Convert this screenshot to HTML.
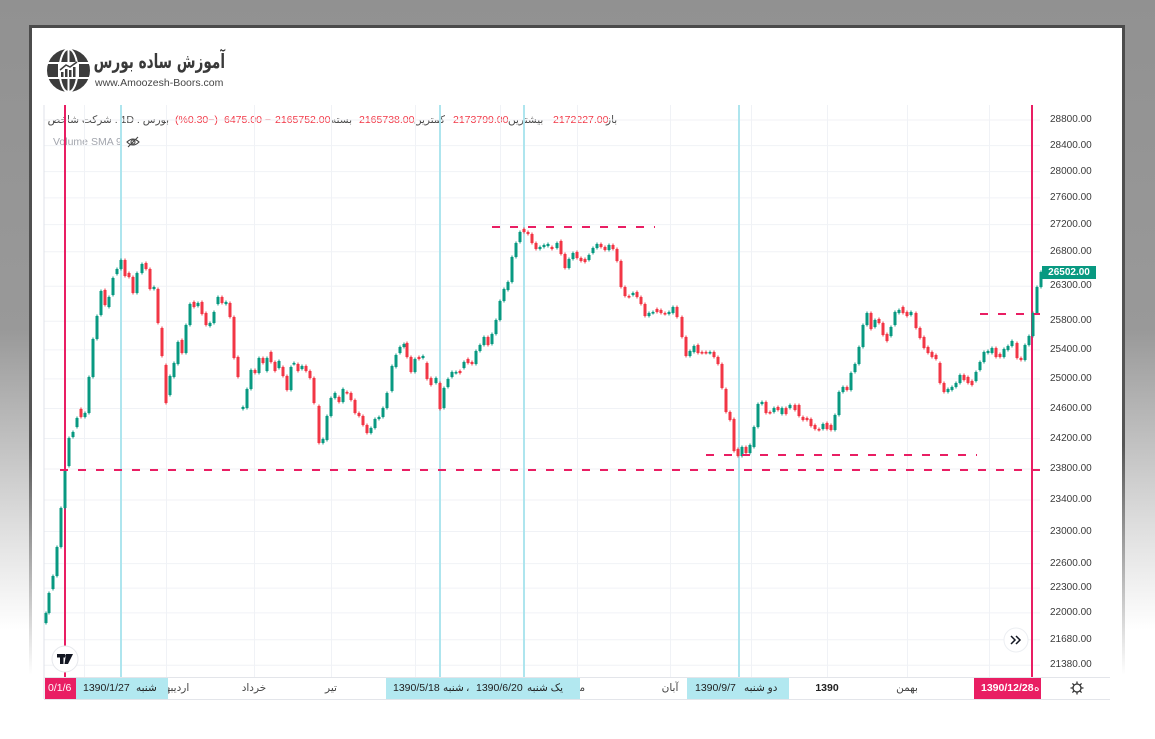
<!DOCTYPE html>
<html><head><meta charset="utf-8">
<style>
*{margin:0;padding:0;box-sizing:border-box}
html,body{width:1155px;height:739px;overflow:hidden}
body{position:relative;background:linear-gradient(to bottom,#919191 0px,#999 330px,#dcdcdc 520px,#fff 630px);font-family:"Liberation Sans","DejaVu Sans",sans-serif}
.panel{position:absolute;left:29px;top:25px;width:1096px;height:714px;background:#fff;border-top:3px solid #4b4b4b}
.bl,.br{position:absolute;top:25px;width:3px;height:650px;background:linear-gradient(to bottom,#4b4b4b 0,#555 420px,rgba(85,85,85,0) 650px)}
.bl{left:29px}.br{left:1122px}
.t{position:absolute;white-space:nowrap;font-size:10.5px;line-height:12px}
.lab{color:#4a4a4a}
.red{color:#f23645}
.p{position:absolute;left:1050px;font-size:10px;line-height:12px;color:#3b3b3b;white-space:nowrap}
.ax{position:absolute;top:682px;font-size:10.5px;line-height:12px;color:#444;white-space:nowrap}
.box{position:absolute;top:677px;height:22px;overflow:hidden}
svg{position:absolute;left:0;top:0}
.logo{position:absolute;left:25px;top:48px;width:200px;text-align:right;direction:rtl;font-size:20px;line-height:26px;font-weight:bold;color:#3a3a3a;white-space:nowrap;font-family:"DejaVu Sans",sans-serif;transform:scaleX(0.68);transform-origin:right center}
</style></head><body>
<div class="panel"></div>
<div class="bl"></div><div class="br"></div>

<div class="logo">آموزش ساده بورس</div>
<div class="t" style="left:95px;top:77px;font-size:10.5px;color:#444">www.Amoozesh-Boors.com</div>

<!-- logo -->
<svg width="1155" height="739" style="z-index:1">
  <g>
    <circle cx="68.5" cy="70.5" r="21.5" fill="#3c3c3c"/>
    <ellipse cx="68.5" cy="70.5" rx="9" ry="21.5" fill="none" stroke="#fff" stroke-width="2"/>
    <line x1="47" y1="63" x2="90" y2="63" stroke="#fff" stroke-width="2"/>
    <line x1="47" y1="78" x2="90" y2="78" stroke="#fff" stroke-width="2"/>
    <line x1="68.5" y1="49" x2="68.5" y2="92" stroke="#fff" stroke-width="2"/>
    <rect x="58" y="62" width="21" height="17" rx="2" fill="#fff"/>
    <rect x="61" y="72" width="2.5" height="5" fill="#3c3c3c"/>
    <rect x="65" y="69" width="2.5" height="8" fill="#3c3c3c"/>
    <rect x="69" y="70" width="2.5" height="7" fill="#3c3c3c"/>
    <rect x="73" y="67" width="2.5" height="10" fill="#3c3c3c"/>
    <polyline points="60,70 66,65 70,67 77,62" fill="none" stroke="#3c3c3c" stroke-width="1.5"/>
  </g>
</svg>

<!-- chart svg -->
<svg width="1155" height="739" id="ch" style="z-index:2">
  <g id="grid" stroke="#f0f2f6" stroke-width="1"></g>
  <g stroke="#aee5ee" stroke-width="2">
    <line x1="121" y1="105" x2="121" y2="677"/>
    <line x1="440" y1="105" x2="440" y2="677"/>
    <line x1="524" y1="105" x2="524" y2="677"/>
    <line x1="739" y1="105" x2="739" y2="677"/>
  </g>
  <g stroke="#e91e63" stroke-width="2">
    <line x1="65" y1="105" x2="65" y2="677"/>
    <line x1="1032" y1="105" x2="1032" y2="677"/>
  </g>
  <g id="candles"></g>
  <g stroke="#e91e63" stroke-width="2" stroke-dasharray="8 10">
    <line x1="60" y1="470" x2="1040" y2="470"/>
    <line x1="492" y1="227" x2="655" y2="227"/>
    <line x1="706" y1="455" x2="977" y2="455"/>
    <line x1="980" y1="314" x2="1040" y2="314"/>
  </g>
  <line x1="44" y1="105" x2="44" y2="699" stroke="#dfe2e8" stroke-width="1"/>
  <line x1="44" y1="677.5" x2="1110" y2="677.5" stroke="#e3e5ea" stroke-width="1"/>
  <line x1="44" y1="699.5" x2="1110" y2="699.5" stroke="#e3e5ea" stroke-width="1"/>
  <!-- TV logo -->
  <circle cx="65" cy="659" r="13" fill="#fff" stroke="#e6e8ec"/>
  <rect x="57" y="654" width="8" height="3.5" fill="#131722"/>
  <rect x="60" y="654" width="3.5" height="10" fill="#131722"/>
  <polygon points="66,654 73,654 68,664 64.5,664" fill="#131722"/>
  <circle cx="67" cy="655.8" r="1.8" fill="#131722"/>
  <!-- >> button -->
  <circle cx="1016" cy="640" r="12" fill="#fff" stroke="#eceef2"/>
  <path d="M1011,636 l4,4 l-4,4 M1016,636 l4,4 l-4,4" fill="none" stroke="#131722" stroke-width="1.5"/>
  <!-- gear -->
  <g transform="translate(1077,688)" fill="none" stroke="#333" stroke-width="1.3">
    <circle r="4"/>
    <path d="M0,-6.5V-4M0,4V6.5M-6.5,0H-4M4,0H6.5M-4.6,-4.6L-2.8,-2.8M2.8,2.8L4.6,4.6M-4.6,4.6L-2.8,2.8M2.8,-2.8L4.6,-4.6"/>
  </g>
  <!-- eye slash -->
  <g transform="translate(133,142)" fill="none" stroke="#444" stroke-width="1.1">
    <path d="M-6,0 Q0,-6 6,0 Q0,6 -6,0Z"/>
    <circle r="2"/>
    <line x1="-5" y1="5" x2="5" y2="-5"/>
  </g>
</svg>

<!-- header legend -->
<div class="t lab" style="left:53px;top:114px;direction:rtl;width:116px;text-align:right">بورس . 1D . شرکت شاخص</div>
<div class="t red" style="left:175px;top:114px">(%0.30−)</div>
<div class="t red" style="left:224px;top:114px">6475.00 −</div>
<div class="t red" style="left:275px;top:114px">2165752.00</div>
<div class="t lab" style="left:331px;top:114px">بسته</div>
<div class="t red" style="left:359px;top:114px">2165738.00</div>
<div class="t lab" style="left:414px;top:114px">کمترین</div>
<div class="t red" style="left:453px;top:114px">2173799.00</div>
<div class="t lab" style="left:508px;top:114px">بیشترین</div>
<div class="t red" style="left:553px;top:114px">2172227.00</div>
<div class="t lab" style="left:606px;top:114px">باز</div>
<div class="t" style="left:53px;top:136px;color:#a3a6ae">Volume SMA 9</div>

<!-- price axis -->
<div class="p" style="top:114px">28800.00</div>
<div class="p" style="top:139.6px">28400.00</div>
<div class="p" style="top:165.6px">28000.00</div>
<div class="p" style="top:191.9px">27600.00</div>
<div class="p" style="top:218.6px">27200.00</div>
<div class="p" style="top:245.7px">26800.00</div>
<div class="p" style="top:280.2px">26300.00</div>
<div class="p" style="top:315.3px">25800.00</div>
<div class="p" style="top:343.9px">25400.00</div>
<div class="p" style="top:372.9px">25000.00</div>
<div class="p" style="top:402.5px">24600.00</div>
<div class="p" style="top:432.5px">24200.00</div>
<div class="p" style="top:463px">23800.00</div>
<div class="p" style="top:494px">23400.00</div>
<div class="p" style="top:525.5px">23000.00</div>
<div class="p" style="top:557.6px">22600.00</div>
<div class="p" style="top:582.1px">22300.00</div>
<div class="p" style="top:606.9px">22000.00</div>
<div class="p" style="top:633.7px">21680.00</div>
<div class="p" style="top:659.2px">21380.00</div>
<div style="position:absolute;left:1042px;top:266px;width:54px;height:13px;background:#089981;color:#fff;font-size:10px;font-weight:bold;line-height:13px;text-align:center">26502.00</div>

<!-- time axis labels -->
<div class="ax" style="left:146px;width:40px;text-align:center">اردیبهشت</div>
<div class="ax" style="left:234px;width:40px;text-align:center">خرداد</div>
<div class="ax" style="left:311px;width:40px;text-align:center">تیر</div>
<div class="ax" style="left:557px;width:40px;text-align:center">مهر</div>
<div class="ax" style="left:650px;width:40px;text-align:center">آبان</div>
<div class="ax" style="left:807px;width:40px;text-align:center;font-weight:bold;color:#222">1390</div>
<div class="ax" style="left:887px;width:40px;text-align:center">بهمن</div>

<div class="box" style="left:45px;width:31px;background:#e91e63"><div class="ax" style="top:5px;left:3px;color:#fff">0/1/6</div></div>
<div class="box" style="left:76px;width:92px;background:#b2e8f0"><div class="ax" style="top:5px;left:7px;color:#222">1390/1/27</div><div class="ax" style="top:5px;left:60px;color:#222">شنبه</div></div>
<div class="box" style="left:386px;width:194px;background:#b2e8f0"><div class="ax" style="top:5px;left:7px;color:#222">1390/5/18</div><div class="ax" style="top:5px;left:57px;color:#222">شنبه</div><div class="ax" style="top:5px;left:80px;color:#222">،</div><div class="ax" style="top:5px;left:90px;color:#222">1390/6/20</div><div class="ax" style="top:5px;left:141px;color:#222">یک شنبه</div></div>
<div class="box" style="left:687px;width:102px;background:#b2e8f0"><div class="ax" style="top:5px;left:8px;color:#222">1390/9/7</div><div class="ax" style="top:5px;left:57px;color:#222">دو شنبه</div></div>
<div class="box" style="left:974px;width:67px;background:#e91e63"><div class="ax" style="top:5px;left:7px;color:#fff;font-weight:bold">1390/12/28</div><div class="ax" style="top:5px;left:60px;color:#fff">ه</div></div>

<script>
(function(){
var NS="http://www.w3.org/2000/svg";
var grid=document.getElementById("grid");
var ys=[120,145.6,171.6,197.9,224.6,251.7,286.2,321.3,349.9,378.9,408.5,438.5,469,500,531.5,563.6,588.1,612.9,639.7,665.2];
ys.forEach(function(y){var l=document.createElementNS(NS,"line");l.setAttribute("x1",44);l.setAttribute("x2",1040);l.setAttribute("y1",y);l.setAttribute("y2",y);grid.appendChild(l);});
[84,166,254,331,415,500,577,670,751,827,907,989].forEach(function(x){var l=document.createElementNS(NS,"line");l.setAttribute("x1",x+0.5);l.setAttribute("x2",x+0.5);l.setAttribute("y1",105);l.setAttribute("y2",677);grid.appendChild(l);});
var d="46,613,623,g;49,593,613,g;53,576,589,g;57,547,576,g;61,508,547,g;65,471,508,g;69,438,466,g;73,432,437,g;77,418,427,g;81,409,417,r;85,413,417,g;89,377,413,g;93,339,377,g;97,316,339,g;101,291,315,g;105,290,305,r;109,297,307,g;113,278,295,g;117,269,274,g;121,260,269,g;125,260,276,r;129,273,277,r;133,277,293,r;137,273,293,g;142,264,273,g;146,263,269,r;150,269,289,r;154,287,289,g;158,289,323,r;162,328,356,r;166,365,403,r;170,376,395,g;174,363,377,g;178,342,364,g;182,340,353,r;186,325,353,g;190,304,325,g;194,302,307,r;198,303,306,g;202,302,314,r;206,313,325,r;210,323,326,g;214,312,323,g;218,297,304,g;222,297,303,r;226,302,304,g;230,303,317,r;234,317,358,r;238,357,377,r;243,407,409,g;247,389,408,g;251,370,389,g;255,370,373,r;259,358,373,g;263,358,363,r;267,358,371,g;271,352,362,r;275,362,371,r;279,361,368,g;283,367,376,r;287,376,390,r;291,367,390,g;294,363,364,g;298,364,371,r;302,366,369,g;306,366,371,r;310,371,378,r;314,378,403,r;319,406,443,r;323,439,443,g;327,416,440,g;331,398,416,g;335,393,398,g;339,397,402,r;343,389,402,g;347,392,393,r;351,393,400,r;355,400,413,r;359,413,416,r;363,416,425,r;367,425,433,r;371,428,433,g;375,419,428,g;379,417,419,g;383,408,417,g;387,393,408,g;392,366,391,g;396,355,367,g;400,347,353,g;404,344,347,g;407,343,357,r;411,357,372,r;415,359,372,g;419,357,359,r;423,356,358,g;427,363,379,r;431,378,385,r;436,378,383,g;440,383,409,r;444,388,408,g;448,379,387,g;452,372,377,g;456,372,373,g;460,371,373,r;464,362,368,g;468,359,363,r;472,362,364,r;476,351,364,g;480,345,351,g;484,337,345,g;488,337,345,r;492,334,344,g;496,320,334,g;500,301,320,g;504,289,301,g;508,282,290,g;512,257,282,g;516,243,257,g;520,232,242,g;524,229,232,r;528,232,234,r;532,234,243,r;536,243,249,r;540,247,249,g;544,245,247,g;548,244,246,g;552,247,249,r;557,243,248,g;561,241,254,r;565,254,268,r;569,259,268,g;573,253,259,g;577,252,258,r;581,258,261,r;585,259,262,r;589,255,260,g;593,248,253,g;597,244,248,g;601,244,247,r;605,247,250,r;609,245,250,g;613,245,249,r;617,249,261,r;621,261,287,r;625,287,296,r;629,296,297,r;633,293,295,g;637,292,297,r;641,297,304,r;645,304,316,r;649,313,316,g;653,312,313,g;657,309,312,r;661,310,313,r;665,313,314,r;669,312,314,g;673,307,313,g;677,307,317,r;682,317,337,r;686,337,356,r;690,351,356,g;694,346,352,g;698,345,353,r;702,352,353,r;706,352,353,r;710,352,353,g;714,352,357,r;718,357,364,r;722,364,388,r;726,389,412,r;730,412,420,r;734,419,451,r;738,449,456,r;742,447,456,g;746,447,453,r;750,445,453,g;754,427,447,g;758,404,427,g;762,402,404,g;766,402,413,r;770,412,413,r;774,408,412,g;778,407,410,r;782,408,414,g;786,408,414,r;790,405,408,g;795,405,410,r;799,405,416,r;803,417,420,r;807,418,420,r;811,419,426,r;815,425,429,r;819,429,430,r;823,424,429,g;827,423,429,r;831,425,430,r;835,415,430,g;839,392,415,g;843,387,392,g;847,387,390,r;851,373,390,g;855,364,372,g;859,347,364,g;863,325,347,g;867,313,325,g;871,313,329,r;875,320,327,g;879,319,323,r;883,323,335,r;887,334,341,r;891,327,336,g;895,312,325,g;899,310,313,g;903,307,313,r;907,312,316,r;911,312,315,g;916,313,328,r;920,328,338,r;924,337,348,r;928,347,353,r;932,352,357,r;936,355,359,r;940,363,383,r;944,383,392,r;948,389,392,g;952,387,390,g;956,383,387,g;960,375,383,g;964,375,380,r;968,377,383,r;972,381,385,r;976,372,381,g;980,362,370,g;984,352,362,g;988,351,353,g;992,348,353,g;996,348,357,r;1000,354,357,r;1004,349,357,g;1008,346,350,g;1012,341,346,g;1017,343,358,r;1021,358,360,r;1025,345,360,g;1029,336,345,g;1033,313,336,g;1037,287,313,g;1041,272,287,g";
var c=document.getElementById("candles");
d.split(";").forEach(function(s){var a=s.split(",");var x=+a[0],t=+a[1],b=+a[2],col=a[3]=="g"?"#089981":"#f23645";
var w=document.createElementNS(NS,"rect");w.setAttribute("x",x-0.5);w.setAttribute("y",t-1.5);w.setAttribute("width",1);w.setAttribute("height",(b-t)+3);w.setAttribute("fill",col);c.appendChild(w);
var r=document.createElementNS(NS,"rect");r.setAttribute("x",x-1.5);r.setAttribute("y",t);r.setAttribute("width",3);r.setAttribute("height",Math.max(1.5,b-t));r.setAttribute("fill",col);c.appendChild(r);});
})();
</script>
</body></html>
